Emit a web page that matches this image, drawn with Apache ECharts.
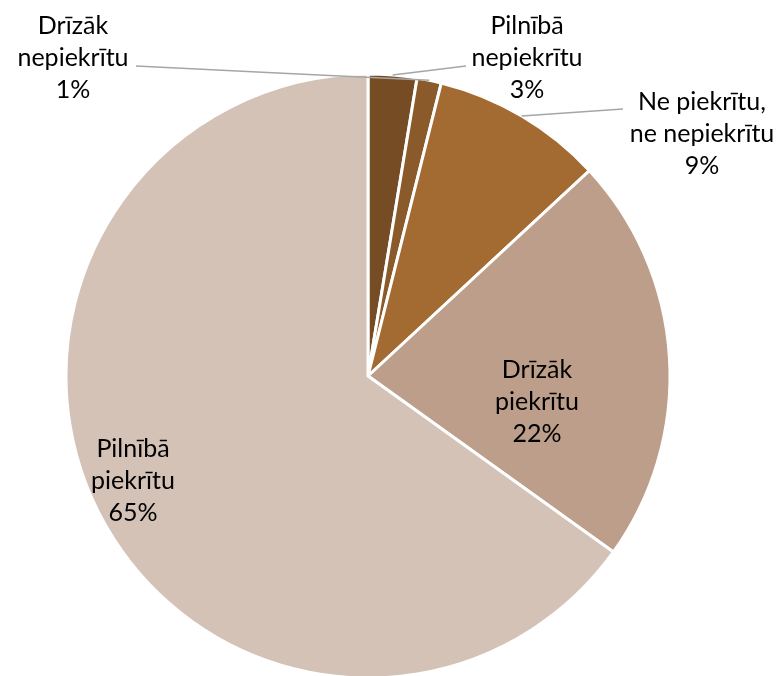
<!DOCTYPE html>
<html>
<head>
<meta charset="utf-8">
<script src="https://cdn.jsdelivr.net/npm/echarts@6/dist/echarts.min.js"></script>
<style>
  html, body { margin: 0; padding: 0; background: #fff; }
  #chart { width: 782px; height: 676px; }
</style>
</head>
<body>
<div id="chart"></div>
<script>
// answers, clockwise from 12 o'clock
const categories = [
  'Pilnībā\nnepiekrītu',
  'Drīzāk\nnepiekrītu',
  'Ne piekrītu,\nne nepiekrītu',
  'Drīzāk\npiekrītu',
  'Pilnībā\npiekrītu'
]
const shares = [2.6, 1.3, 9.2, 21.8, 65.1]

const colors = ['#754C23', '#8B5A2B', '#A36B31', '#BD9E8A', '#D4C2B7']
const pieCenter = [368, 376]
const pieRadius = 302
// where each label sits, and if it is pulled outside with a leader line
const labelSpots = [
  { x: 527, y: 58, outside: true, lineEnd: [466, 66] },
  { x: 73, y: 58, outside: true, lineEnd: [136, 66] },
  { x: 702, y: 134, outside: true, lineEnd: [623, 109] },
  { x: 537, y: 402, outside: false },
  { x: 133, y: 481, outside: false }
]

const total = shares.reduce((a, b) => a + b, 0)

// point on the rim in the middle of slice i (clockwise from 12 o'clock)
function rimPoint(i) {
  let before = 0
  for (let k = 0; k < i; k++) before += shares[k]
  const a = (before + shares[i] / 2) / total * Math.PI * 2
  return [pieCenter[0] + pieRadius * Math.sin(a), pieCenter[1] - pieRadius * Math.cos(a)]
}

const chart = echarts.init(document.getElementById('chart'))

const pieBase = {
  type: 'pie',
  center: pieCenter,
  radius: pieRadius,
  startAngle: 90,
  clockwise: true,
  percentPrecision: 0,
  avoidLabelOverlap: false
}

// slices
const sliceData = categories.map((name, i) => ({
  name,
  value: shares[i],
  itemStyle: { color: colors[i] }
}))

// same slices again, invisible, on top: carries labels and leader lines
// so the lines are drawn over the wedges
const labelData = categories.map((name, i) => ({
  name,
  value: shares[i],
  label: { position: labelSpots[i].outside ? 'outside' : 'inside' },
  labelLine: { show: labelSpots[i].outside }
}))

chart.setOption({
  animation: false,
  series: [{
    ...pieBase,
    z: 2,
    data: sliceData,
    itemStyle: {
      borderColor: '#fff',
      borderWidth: 3
    },
    label: { show: false },
    labelLine: { show: false }
  }, {
    ...pieBase,
    z: 5,
    silent: true,
    data: labelData,
    itemStyle: {
      color: 'rgba(0,0,0,0)',
      borderWidth: 0
    },
    label: {
      formatter: '{b}\n{d}%',
      fontFamily: 'Lato',
      fontSize: 25,
      lineHeight: 32,
      color: '#000',
      align: 'center'
    },
    labelLine: {
      minTurnAngle: 0,
      maxSurfaceAngle: 180,
      lineStyle: { color: '#A6A6A6', width: 1.5 }
    },
    labelLayout(params) {
      const i = params.dataIndex
      const spot = labelSpots[i]
      const layout = { x: spot.x, y: spot.y, align: 'center', verticalAlign: 'middle' }
      if (spot.outside) {
        const start = rimPoint(i)
        const mid = [(start[0] + spot.lineEnd[0]) / 2, (start[1] + spot.lineEnd[1]) / 2]
        layout.labelLinePoints = [start, mid, spot.lineEnd]
      }
      return layout
    }
  }]
})
</script>
</body>
</html>
